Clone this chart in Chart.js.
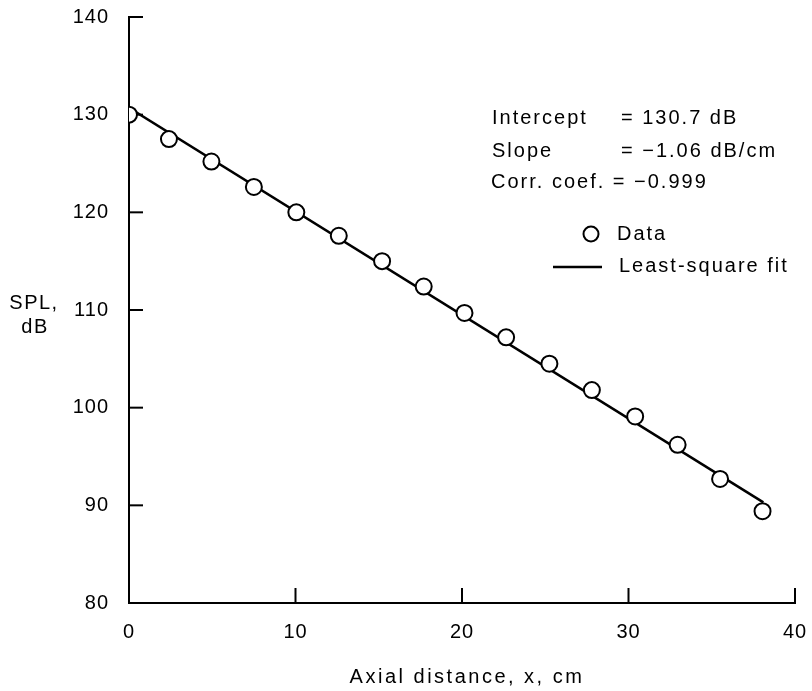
<!DOCTYPE html>
<html><head><meta charset="utf-8">
<script src="https://cdn.jsdelivr.net/npm/chart.js@4/dist/chart.umd.min.js"></script>
<style>html,body{margin:0;padding:0;background:#fff}#wrap{width:812px;height:691px;position:relative}</style>
</head><body><div id="wrap"><canvas id="c" width="812" height="691"></canvas></div>
<script>
// ---- data ----
const distances = [0, 2.4, 4.95, 7.5, 10.05, 12.6, 15.2, 17.7, 20.15, 22.65, 25.25, 27.8, 30.4, 32.95, 35.5, 38.05];
const splValues = [130.0, 127.5, 125.2, 122.6, 120.0, 117.6, 115.0, 112.4, 109.7, 107.2, 104.5, 101.8, 99.1, 96.2, 92.7, 89.4];
const fitX = [0, 38.1];
const fitY = [130.7, 90.3];
const statLabels = ['Intercept', 'Slope', 'Corr. coef.'];
const statValues = ['= 130.7 dB', '= \u22121.06 dB/cm', '= \u22120.999'];
const seriesNames = ['Data', 'Least-square fit'];
const xTitle = 'Axial distance, x, cm';
const yTitle = ['SPL,', 'dB'];

const FONT = '"Liberation Sans", Arial, Helvetica, sans-serif';

const scatterPts = distances.map((x, i) => ({x, y: splValues[i]}));
const fitPts = fitX.map((x, i) => ({x, y: fitY[i]}));

const extras = {
  id: 'extras',
  beforeDraw(chart) {
    chart.ctx.letterSpacing = '1px';
  },
  beforeDatasetsDraw(chart) {
    const {ctx, scales: {x, y}} = chart;
    ctx.save();
    ctx.strokeStyle = '#000';
    ctx.lineWidth = 2;
    y.ticks.forEach(t => {
      const py = y.getPixelForValue(t.value);
      ctx.beginPath(); ctx.moveTo(y.right, py); ctx.lineTo(y.right + 14, py); ctx.stroke();
    });
    x.ticks.forEach(t => {
      const px = x.getPixelForValue(t.value);
      ctx.beginPath(); ctx.moveTo(px, x.top); ctx.lineTo(px, x.top - 15); ctx.stroke();
    });
    ctx.restore();
  },
  afterDraw(chart) {
    const {ctx, chartArea: ca} = chart;
    ctx.save();
    ctx.fillStyle = '#000';
    ctx.font = '20px ' + FONT;
    ctx.textBaseline = 'middle';
    // axis titles
    ctx.letterSpacing = '2.5px';
    ctx.textAlign = 'center';
    ctx.fillText(xTitle, (ca.left + ca.right) / 2 + 5, 677);
    ctx.letterSpacing = '1.5px';
    ctx.fillText(yTitle[0], 34, 303);
    ctx.fillText(yTitle[1], 35, 327);
    // statistics block
    ctx.textAlign = 'left';
    ctx.letterSpacing = '2px';
    const rows = [118, 151, 182];
    ctx.fillText(statLabels[0], 492, rows[0]);
    ctx.fillText(statValues[0], 621, rows[0]);
    ctx.fillText(statLabels[1], 492, rows[1]);
    ctx.fillText(statValues[1], 621, rows[1]);
    ctx.fillText(statLabels[2] + ' ' + statValues[2], 491, rows[2]);
    // legend
    const ds = chart.data.datasets;
    ctx.beginPath();
    ctx.arc(591, 234, 7.5, 0, Math.PI * 2);
    ctx.fillStyle = ds[0].pointBackgroundColor;
    ctx.fill();
    ctx.lineWidth = 2;
    ctx.strokeStyle = ds[0].pointBorderColor;
    ctx.stroke();
    ctx.beginPath();
    ctx.moveTo(553, 267); ctx.lineTo(602, 267);
    ctx.lineWidth = ds[1].borderWidth;
    ctx.strokeStyle = ds[1].borderColor;
    ctx.stroke();
    ctx.fillStyle = '#000';
    ctx.fillText(ds[0].label, 617, 234);
    ctx.fillText(ds[1].label, 619, 266);
    ctx.restore();
  }
};

new Chart(document.getElementById('c'), {
  type: 'scatter',
  data: {
    datasets: [
      {
        label: seriesNames[0],
        data: scatterPts,
        showLine: false,
        pointRadius: 8,
        pointHoverRadius: 8,
        pointBorderWidth: 2,
        pointBackgroundColor: '#fff',
        pointBorderColor: '#000'
      },
      {
        label: seriesNames[1],
        data: fitPts,
        showLine: true,
        borderColor: '#000',
        borderWidth: 2.5,
        pointRadius: 0,
        fill: false
      }
    ]
  },
  options: {
    responsive: false,
    animation: false,
    events: [],
    layout: {padding: {left: 0, right: 17, top: 17, bottom: 0}},
    plugins: {legend: {display: false}, tooltip: {enabled: false}},
    scales: {
      x: {
        type: 'linear', min: 0, max: 40,
        ticks: {stepSize: 10, color: '#000', padding: 17, font: {family: FONT, size: 20}, maxRotation: 0},
        grid: {display: true, drawOnChartArea: false, drawTicks: false, color: 'rgba(0,0,0,0)'},
        border: {display: true, color: '#000', width: 2},
        title: {display: false},
        afterFit(s) { s.height = 88; s.paddingLeft = 0; s.paddingRight = 0; }
      },
      y: {
        type: 'linear', min: 80, max: 140,
        ticks: {stepSize: 10, color: '#000', padding: 20, font: {family: FONT, size: 20}},
        grid: {display: true, drawOnChartArea: false, drawTicks: false, color: 'rgba(0,0,0,0)'},
        border: {display: true, color: '#000', width: 2},
        title: {display: false},
        afterFit(s) { s.width = 129; s.paddingTop = 0; s.paddingBottom = 0; }
      }
    }
  },
  plugins: [extras]
});
</script>
</body></html>
